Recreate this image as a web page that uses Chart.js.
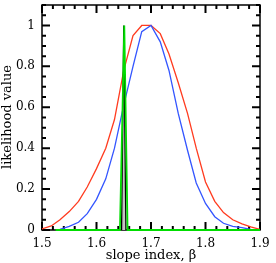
<!DOCTYPE html>
<html>
<head>
<meta charset="utf-8">
<script src="https://cdn.jsdelivr.net/npm/chart.js@4"></script>
<style>
  html, body { margin: 0; padding: 0; background: #fff; }
  #wrap { width: 276px; height: 263px; }
</style>
</head>
<body>
<div id="wrap"><canvas id="chart-area" width="276" height="263"></canvas></div>
<script>
// slope index grid (beta)
var beta = [1.5, 1.517, 1.533, 1.55, 1.567, 1.583, 1.6, 1.617, 1.633, 1.65, 1.667, 1.683, 1.7,
            1.717, 1.733, 1.75, 1.767, 1.783, 1.8, 1.817, 1.833, 1.85, 1.867, 1.883, 1.9];
var redLike = [0.005, 0.02, 0.05, 0.09, 0.14, 0.21, 0.30, 0.40, 0.54, 0.78, 0.95, 1.0, 1.0,
               0.96, 0.86, 0.72, 0.57, 0.40, 0.235, 0.14, 0.085, 0.05, 0.03, 0.015, 0.003];
var blueLike = [null, null, 0.003, 0.018, 0.038, 0.08, 0.15, 0.25, 0.40, 0.61, 0.80, 0.97, 1.0,
                0.92, 0.78, 0.57, 0.39, 0.23, 0.13, 0.065, 0.033, 0.018, 0.012, 0.003, null];
// narrow spikes
var greenX = [1.525, 1.643, 1.651, 1.657, 1.9];
var greenY = [0, 0, 1, 0, 0];
var blackX = [1.646, 1.650, 1.654];
var blackY = [0, 1, 0];

var xTicks = [1.5, 1.6, 1.7, 1.8, 1.9];
var yTicks = [0, 0.2, 0.4, 0.6, 0.8, 1];
var xMinor = [1.5, 1.52, 1.54, 1.56, 1.58, 1.6, 1.62, 1.64, 1.66, 1.68, 1.7,
              1.72, 1.74, 1.76, 1.78, 1.8, 1.82, 1.84, 1.86, 1.88, 1.9];
var yMinor = [0, 0.05, 0.1, 0.15, 0.2, 0.25, 0.3, 0.35, 0.4, 0.45, 0.5, 0.55,
              0.6, 0.65, 0.7, 0.75, 0.8, 0.85, 0.9, 0.95, 1, 1.05, 1.1];

function pts(xs, ys) {
  var out = [];
  for (var i = 0; i < xs.length; i++) {
    if (ys[i] !== null) out.push({x: xs[i], y: ys[i]});
  }
  return out;
}

function drawTicks(chart) {
  var ctx = chart.ctx, a = chart.chartArea;
  var sx = chart.scales.x, sy = chart.scales.y;
  var p, len, i;
  ctx.save();
  ctx.setLineDash([]);
  ctx.globalAlpha = 1;
  ctx.strokeStyle = '#000000';
  ctx.lineWidth = 2;
  ctx.beginPath();
  for (i = 0; i < xMinor.length; i++) {
    p = sx.getPixelForValue(xMinor[i]);
    len = (i % 5 === 0) ? 8 : 4;
    ctx.moveTo(p, a.bottom); ctx.lineTo(p, a.bottom - len);
    ctx.moveTo(p, a.top); ctx.lineTo(p, a.top + len);
  }
  for (i = 0; i < yMinor.length; i++) {
    p = sy.getPixelForValue(yMinor[i]);
    len = (i % 4 === 0) ? 8 : 4;
    ctx.moveTo(a.left, p); ctx.lineTo(a.left + len, p);
    ctx.moveTo(a.right, p); ctx.lineTo(a.right - len, p);
  }
  ctx.stroke();
  ctx.restore();
}

// box + ticks under the curves, axis titles on top
var frame = {
  id: 'frame',
  beforeDatasetsDraw: function(chart) {
    var ctx = chart.ctx, a = chart.chartArea;
    ctx.save();
    ctx.setLineDash([]);
    ctx.strokeStyle = '#000';
    ctx.lineWidth = 1.5;
    ctx.strokeRect(a.left, a.top, a.right - a.left, a.bottom - a.top);
    ctx.restore();
    drawTicks(chart);
  },
  afterDraw: function(chart) {
    var ctx = chart.ctx, a = chart.chartArea;
    ctx.save();
    ctx.fillStyle = '#000';
    ctx.textAlign = 'center';
    ctx.textBaseline = 'middle';
    ctx.font = '13px "DejaVu Serif"';
    ctx.fillText('slope index, \u03b2', (a.left + a.right) / 2, 256);
    ctx.translate(8, 117);
    ctx.rotate(-Math.PI / 2);
    ctx.fillText('likelihood value', 0, 0);
    ctx.restore();
  }
};

var tickFont = {family: 'DejaVu Serif', size: 12};

var config = {
  type: 'scatter',
  data: {
    datasets: [
      {
        data: pts(greenX, greenY),
        showLine: true, borderColor: '#00dd00', borderWidth: 1.8,
        pointRadius: 0, clip: 4, order: 0
      },
      {
        data: pts(blackX, blackY),
        showLine: true, borderColor: '#000', borderWidth: 1.3,
        backgroundColor: '#c4c4c4', fill: 'origin',
        pointRadius: 0, order: 1
      },
      {
        data: pts(beta, blueLike),
        showLine: true, borderColor: '#3355ff', borderWidth: 1.3,
        pointRadius: 0, order: 2
      },
      {
        data: pts(beta, redLike),
        showLine: true, borderColor: '#ff3b1f', borderWidth: 1.3,
        pointRadius: 0, order: 3
      }
    ]
  },
  options: {
    responsive: false,
    animation: false,
    events: [],
    layout: { padding: {left: 0, right: 16, top: 5, bottom: 0} },
    plugins: { legend: {display: false}, tooltip: {enabled: false} },
    scales: {
      x: {
        type: 'linear', min: 1.5, max: 1.9,
        grid: {display: false, drawTicks: false}, border: {display: false},
        afterBuildTicks: function(s) { s.ticks = xTicks.map(function(v) { return {value: v}; }); },
        ticks: {
          color: '#000', font: tickFont, padding: 7, maxRotation: 0,
          callback: function(v) { return v.toFixed(1); }
        },
        afterFit: function(s) { s.height = 33; s.paddingLeft = 0; s.paddingRight = 0; }
      },
      y: {
        type: 'linear', min: 0, max: 1.1,
        grid: {display: false, drawTicks: false}, border: {display: false},
        afterBuildTicks: function(s) { s.ticks = yTicks.map(function(v) { return {value: v}; }); },
        ticks: {
          color: '#000', font: tickFont, padding: 7,
          callback: function(v) { return (v === 0 || v === 1) ? String(v) : v.toFixed(1); }
        },
        afterFit: function(s) { s.width = 42; s.paddingTop = 0; s.paddingBottom = 0; }
      }
    }
  },
  plugins: [frame]
};

var ctx = document.getElementById('chart-area').getContext('2d');
window.myChart = new Chart(ctx, config);
</script>
</body>
</html>
